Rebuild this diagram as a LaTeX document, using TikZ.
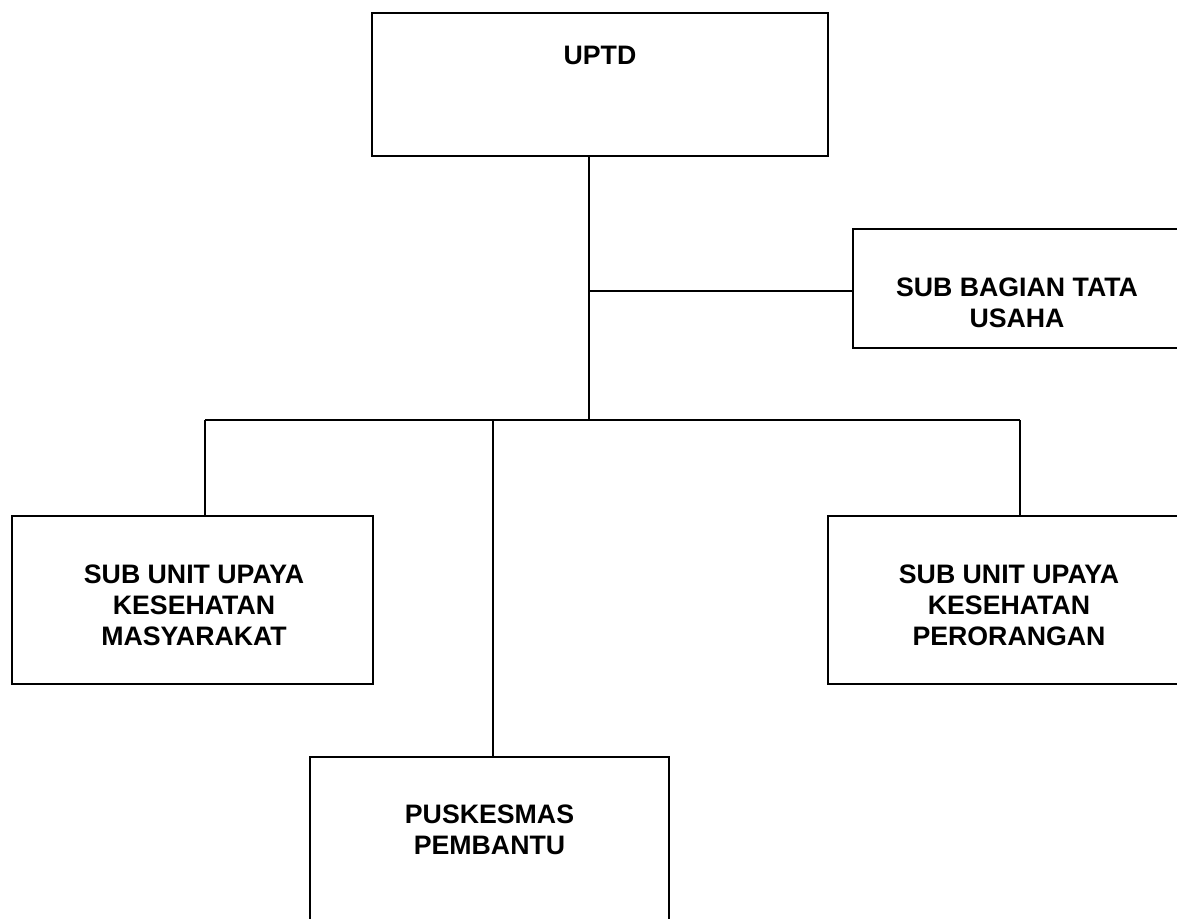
\documentclass[tikz,border=0pt]{standalone}
\usepackage{fontspec}
\setmainfont{Liberation Sans}

\tikzset{
    kotak/.style={draw, line width=1pt, rectangle, inner sep=0pt},
    teks/.style={font=\fontsize{15.2}{17.6}\selectfont\bfseries, align=center, anchor=north, inner sep=0pt},
    garis/.style={line width=1pt}
}

\begin{document}
\begin{tikzpicture}
    \clip (0,0) rectangle (23.54,-18.38);

    %Kotak
        \node[kotak, minimum width=9.12cm, minimum height=2.86cm] (uptd) at (12.0,-1.69) {};
        \node[kotak, minimum width=6.56cm, minimum height=2.38cm] (tu) at (20.34,-5.77) {};
        \node[kotak, minimum width=7.22cm, minimum height=3.36cm] (km) at (3.85,-12.0) {};
        \node[kotak, minimum width=7.24cm, minimum height=3.36cm] (kp) at (20.18,-12.0) {};
        \node[kotak, minimum width=7.18cm, minimum height=4.86cm] (pb) at (9.79,-17.57) {};

    %Teks
        \node[teks] (uptd-t) at (12.0,-0.91) {UPTD};
        \node[teks] (tu-t) at (20.34,-5.55) {SUB BAGIAN TATA\\USAHA};
        \node[teks] (km-t) at (3.88,-11.29) {SUB UNIT UPAYA\\KESEHATAN\\MASYARAKAT};
        \node[teks] (kp-t) at (20.18,-11.29) {SUB UNIT UPAYA\\KESEHATAN\\PERORANGAN};
        \node[teks] (pb-t) at (9.79,-16.09) {PUSKESMAS\\PEMBANTU};

    %Garis
        \coordinate (cab) at (11.78,-5.82);
        \coordinate (bar) at (11.78,-8.4);
        \coordinate (bar-l) at (4.1,-8.4);
        \coordinate (bar-m) at (9.86,-8.4);
        \coordinate (bar-r) at (20.4,-8.4);

        \draw[garis] (bar |- uptd.south)--(bar);
        \draw[garis] (cab)--(cab -| tu.west);
        \draw[garis] (bar-l)--(bar-r);
        \draw[garis] (bar-l)--(bar-l |- km.north);
        \draw[garis] (bar-m)--(bar-m |- pb.north);
        \draw[garis] (bar-r)--(bar-r |- kp.north);

\end{tikzpicture}
\end{document}
